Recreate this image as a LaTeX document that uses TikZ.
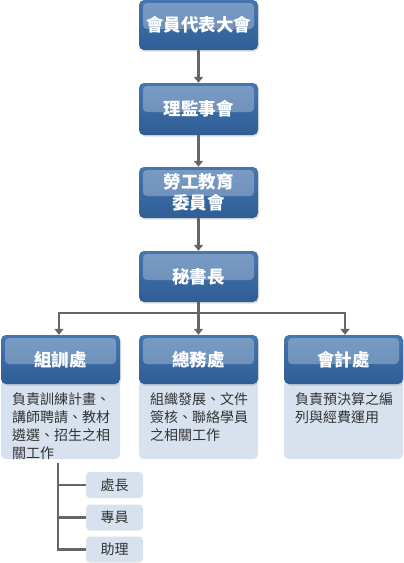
\documentclass[tikz,border=0pt]{standalone}
\usepackage{fontspec}
\setmainfont{Noto Sans CJK TC}
\usetikzlibrary{arrows.meta,shadows}
\definecolor{hdrblue}{HTML}{4676B0}
\definecolor{hdrdark}{HTML}{2F5E96}
\definecolor{bodyblue}{HTML}{D7E2EE}
\definecolor{linegray}{HTML}{666666}
\definecolor{txtgray}{HTML}{333333}
\tikzset{
  hdr/.style={rounded corners=5pt, top color=hdrblue, bottom color=hdrdark,
    text=white, font=\fontsize{17.5}{21}\selectfont\bfseries, align=center,
    minimum width=119pt, minimum height=50pt, inner sep=0pt,
    drop shadow={shadow xshift=1pt,shadow yshift=-1.5pt,opacity=0.25},
    path picture={\fill[white,opacity=0.28,rounded corners=4pt]
      ([xshift=4pt,yshift=-3pt]path picture bounding box.north west) rectangle
      ([xshift=-4pt,yshift=-29pt]path picture bounding box.north east);}},
  bodybox/.style={rounded corners=5pt, fill=bodyblue, minimum width=119pt,
    minimum height=79pt, inner sep=0pt},
  bodytxt/.style={text=txtgray, align=left, font=\fontsize{14}{18.2}\selectfont,
    inner sep=0pt, anchor=north west},
  subbox/.style={rounded corners=4pt, fill=bodyblue, text=txtgray,
    font=\fontsize{14}{16}\selectfont, minimum width=57pt, minimum height=26pt, inner sep=0pt},
  conn/.style={draw=linegray, line width=2.6pt},
  arr/.style={conn, -{Triangle[length=6pt,width=9pt]}}
}
\begin{document}
\begin{tikzpicture}[x=1pt,y=-1pt]
\useasboundingbox (0,0) rectangle (404,563);
% top chain
\node[hdr] (a) at (198.5,25) {會員代表大會};
\node[hdr,minimum height=52pt] (b) at (198.5,109) {理監事會};
\node[hdr,minimum height=51pt] (c) at (198.5,192.5) {勞工教育\\委員會};
\node[hdr,minimum height=51pt] (d) at (198.5,276.5) {秘書長};
% departments
\node[bodybox,anchor=north] (e1b) at (60.5,380) {};
\node[bodybox,anchor=north] (e2b) at (198.5,380) {};
\node[bodybox,anchor=north] (e3b) at (343.5,380) {};
\node[bodytxt] (t1) at (12,392) {負責訓練計畫、\\講師聘請、教材\\遴選、招生之相\\關工作};
\node[bodytxt] (t2) at (150,392) {組織發展、文件\\簽核、聯絡學員\\之相關工作};
\node[bodytxt] (t3) at (295,392) {負責預決算之編\\列與經費運用};
\node[hdr,minimum height=49pt] (e1) at (60.5,359.5) {組訓處};
\node[hdr,minimum height=49pt] (e2) at (198.5,359.5) {總務處};
\node[hdr,minimum height=49pt] (e3) at (343.5,359.5) {會計處};
% sub items
\node[subbox] (s1) at (114.5,485) {處長};
\node[subbox] (s2) at (114.5,517.5) {專員};
\node[subbox] (s3) at (114.5,549.5) {助理};
% connectors
\draw[arr] (a.south) -- (b.north);
\draw[arr] (b.south) -- (c.north);
\draw[arr] (c.south) -- (d.north);
\coordinate (j) at (198.5,313);
\draw[conn] (d.south) -- (j);
\draw[arr] (j) -- (e2.north);
\draw[arr] (j) -| ([xshift=-1.5pt]e1.north);
\draw[arr] (j) -| ([xshift=1.5pt]e3.north);
\coordinate (v) at (58,463);
\draw[conn] (v) |- (s3.west);
\draw[conn] (v |- s1.west) -- (s1.west);
\draw[conn] (v |- s2.west) -- (s2.west);
\end{tikzpicture}
\end{document}
